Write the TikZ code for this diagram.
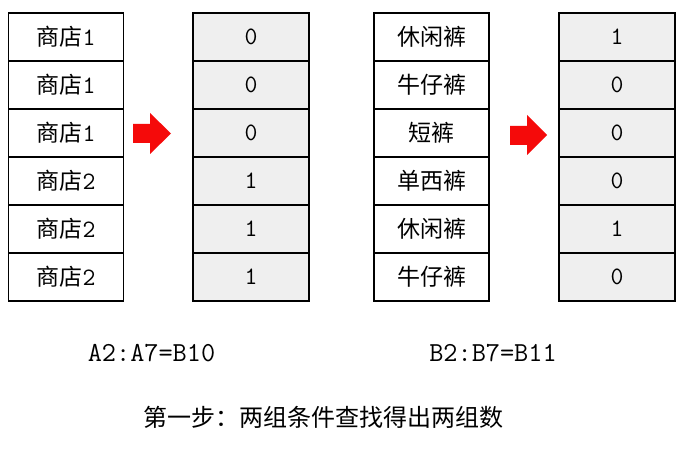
\documentclass[tikz,border=0pt]{standalone}
\usepackage{fontspec}
\newfontfamily\cjk{Noto Sans CJK SC}
\newcommand\heavytt{\ttfamily\addfontfeatures{FakeBold=1.6}}
\definecolor{cellgray}{HTML}{EFEFEF}
\definecolor{arrowred}{HTML}{F50A0A}
\tikzset{
  cell/.style={draw=black, line width=1.6pt, minimum width=115pt, minimum height=48pt, inner sep=0pt, outer sep=0pt, font=\cjk\fontsize{23}{26}\selectfont},
  valcell/.style={cell, fill=cellgray, minimum width=116pt, font=\heavytt\fontsize{25}{27}\selectfont},
  formula/.style={font=\heavytt\fontsize{27.5}{30}\selectfont, inner sep=0pt},
  caption/.style={font=\cjk\fontsize{24}{26}\selectfont, inner sep=0pt},
  redarrow/.style={fill=arrowred}
}
\begin{document}
\begin{tikzpicture}[x=1pt,y=-1pt]
\useasboundingbox (0,0) rectangle (688,454);
\fill[white] (0,0) rectangle (688,454);
% left table: shops
\foreach \t [count=\i] in {1,1,1,2,2,2}{
  \node[cell] (a\i) at (66,{13+48*(\i-0.5)}) {商店{\heavytt\fontsize{25}{27}\selectfont\t}};
}
\foreach \v [count=\i] in {0,0,0,1,1,1}{
  \node[valcell] (b\i) at (251,{13+48*(\i-0.5)}) {\v};
}
% right table: products
\foreach \t [count=\i] in {休闲裤,牛仔裤,短裤,单西裤,休闲裤,牛仔裤}{
  \node[cell] (c\i) at (431.5,{13+48*(\i-0.5)}) {\t};
}
\foreach \v [count=\i] in {1,0,0,0,1,0}{
  \node[valcell] (d\i) at (617,{13+48*(\i-0.5)}) {\v};
}
% red arrows
\fill[redarrow] (133,124) -- (150,124) -- (150,113) -- (171,133.5) -- (150,154) -- (150,143) -- (133,143) -- cycle;
\fill[redarrow] (510,126) -- (527,126) -- (527,115) -- (547,135) -- (527,155) -- (527,145) -- (510,145) -- cycle;
% formulas
\node[formula] (f1) at (151.5,353) {A2:A7=B10};
\node[formula] (f2) at (493,353) {B2:B7=B11};
\node[caption] (cap) at (323,417) {第一步：两组条件查找得出两组数};
\end{tikzpicture}
\end{document}
